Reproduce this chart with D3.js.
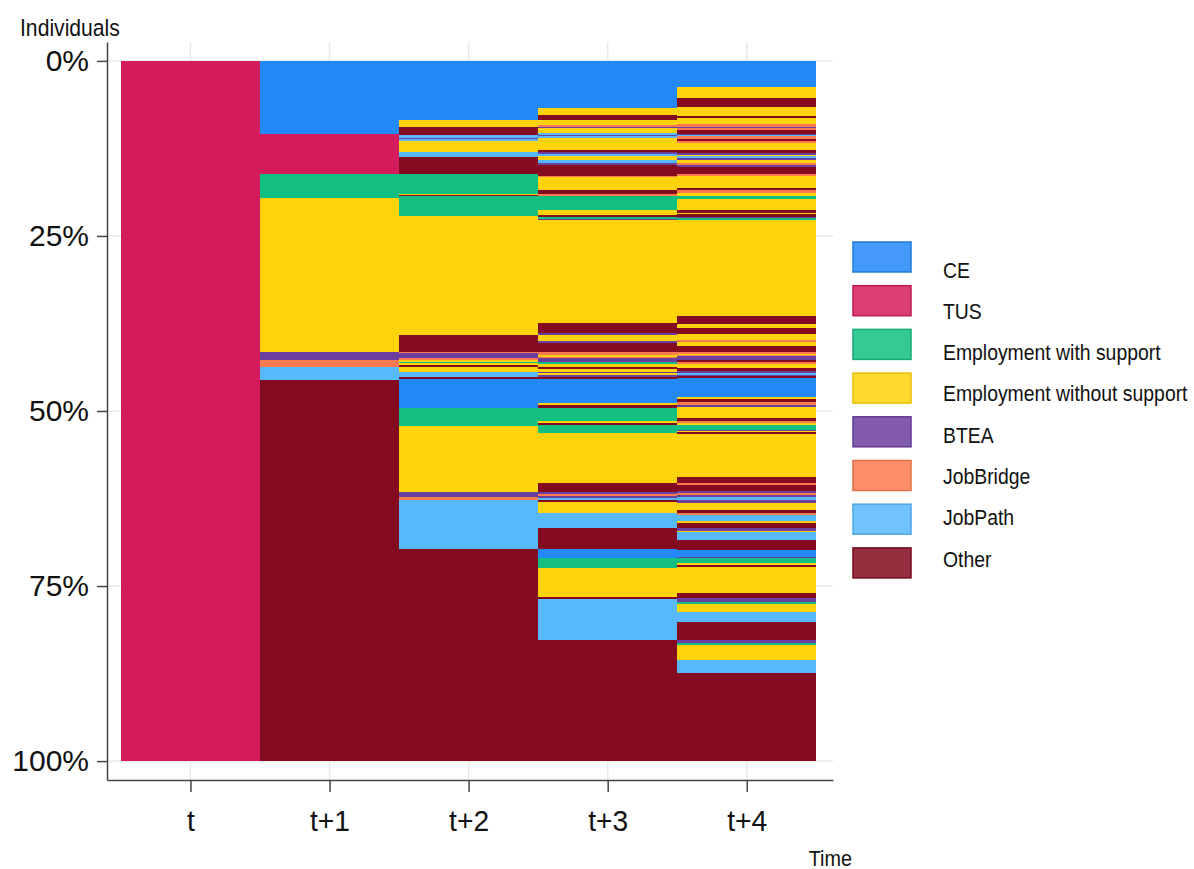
<!DOCTYPE html>
<html><head><meta charset="utf-8">
<script src="https://cdn.jsdelivr.net/npm/d3@7"></script>
<style>
body{margin:0;background:#fff}
text{font-family:"Liberation Sans",Arial,sans-serif;fill:#111}
</style>
</head><body>
<svg id="chart" width="1194" height="869"></svg>
<script>
// ---- data ----
const timeLabels = ["t", "t+1", "t+2", "t+3", "t+4"];
const stateKeys = ["CE", "TUS", "EWS", "EWO", "BTEA", "JB", "JP", "OTH"];
const stateLabels = ["CE", "TUS", "Employment with support", "Employment without support", "BTEA", "JobBridge", "JobPath", "Other"];
const stateColors = ["#2388f8", "#d41c5c", "#13bf80", "#fed30b", "#6b3fa0", "#fb7a4f", "#58b8fc", "#830a1f"];
const yTicks = [0, 25, 50, 75, 100];

// sequences: [state, share of individuals in %], top to bottom
const seqT0 = [["TUS", 100]];
const seqT1 = [["CE",10.43],["TUS",5.71],["EWS",3.43],["EWO",22.0],["BTEA",1.14],["JB",1.0],["JP",1.86],["OTH",54.43]];
const seqT2 = [["CE",8.43],["EWO",1.0],["OTH",1.14],["JP",0.43],["BTEA",0.14],["JP",0.29],["EWO",1.57],["JP",0.71],["OTH",2.43],["EWS",2.86],["EWO",0.21],["OTH",0.14],["EWS",2.79],["EWO",17.0],["OTH",2.43],["JB",0.14],["BTEA",0.71],["JB",0.29],["EWO",0.29],["EWS",0.14],["EWO",0.29],["OTH",0.29],["EWO",0.71],["JP",0.71],["OTH",0.29],["CE",4.14],["EWS",2.57],["EWO",9.43],["BTEA",0.71],["JB",0.43],["JP",7.0],["OTH",30.29]];
const seqT3 = [["CE",6.71],["EWO",1.0],["OTH",0.71],["EWO",0.71],["JB",0.29],["BTEA",0.14],["EWO",0.71],["JP",0.29],["BTEA",0.14],["JP",0.29],["EWO",1.71],["OTH",0.29],["BTEA",0.29],["JP",0.29],["EWO",0.57],["JP",0.43],["BTEA",0.29],["OTH",1.57],["JB",0.14],["EWO",1.86],["OTH",0.57],["JB",0.29],["EWS",2.0],["EWO",0.71],["OTH",0.29],["EWS",0.29],["BTEA",0.14],["EWO",14.71],["OTH",1.43],["BTEA",0.29],["EWO",0.86],["BTEA",0.29],["OTH",1.29],["JB",0.43],["EWO",0.29],["JB",0.14],["BTEA",0.57],["EWS",0.29],["EWO",0.43],["OTH",0.29],["EWO",0.43],["BTEA",0.14],["EWO",0.29],["BTEA",0.29],["OTH",0.29],["CE",3.43],["EWO",0.29],["OTH",0.43],["EWS",1.86],["EWO",0.21],["OTH",0.29],["EWS",1.21],["EWO",7.14],["OTH",1.29],["BTEA",0.29],["JB",0.29],["BTEA",0.29],["JP",0.29],["OTH",0.29],["EWO",1.57],["JP",2.14],["OTH",3.0],["CE",1.29],["EWS",1.43],["EWO",4.14],["OTH",0.29],["JP",5.86],["OTH",17.29]];
const seqT4 = [["CE",3.71],["EWO",1.57],["OTH",1.29],["EWO",1.29],["OTH",0.29],["EWO",0.86],["JB",0.43],["BTEA",0.14],["JB",0.29],["OTH",0.57],["BTEA",0.14],["JP",0.14],["JB",0.43],["OTH",0.29],["JB",0.29],["EWO",1.0],["OTH",0.43],["BTEA",0.29],["EWO",0.14],["JP",0.29],["BTEA",0.29],["EWO",0.43],["JB",0.29],["BTEA",0.29],["OTH",1.0],["JB",0.29],["EWO",1.71],["OTH",0.29],["JB",0.43],["EWO",0.43],["EWS",0.43],["EWO",1.57],["OTH",0.43],["EWO",0.14],["OTH",0.43],["BTEA",0.14],["EWS",0.29],["EWO",13.71],["OTH",1.14],["EWO",0.57],["OTH",0.86],["EWO",0.86],["JB",0.29],["EWO",0.57],["OTH",0.86],["JB",0.29],["EWO",0.14],["JB",0.14],["BTEA",0.57],["OTH",0.29],["JB",0.29],["EWO",0.57],["OTH",0.43],["BTEA",0.29],["JP",0.29],["BTEA",0.14],["OTH",0.29],["CE",2.71],["EWO",0.29],["OTH",0.43],["JB",0.43],["BTEA",0.29],["EWO",1.57],["OTH",0.43],["JB",0.29],["EWO",0.29],["EWS",0.71],["BTEA",0.14],["EWO",0.14],["OTH",0.29],["EWO",6.14],["OTH",0.86],["JB",0.29],["OTH",0.86],["BTEA",0.29],["JB",0.29],["BTEA",0.29],["JP",0.43],["BTEA",0.43],["EWO",1.0],["OTH",0.43],["JB",0.29],["JP",0.86],["EWO",0.29],["OTH",0.71],["BTEA",0.43],["EWO",0.14],["JP",1.14],["OTH",1.43],["CE",1.0],["BTEA",0.14],["EWS",0.71],["EWO",0.29],["OTH",0.29],["EWO",3.71],["OTH",0.71],["BTEA",0.57],["EWS",0.29],["EWO",1.14],["JP",1.43],["OTH",2.57],["BTEA",0.43],["EWS",0.29],["EWO",2.14],["JP",1.86],["OTH",12.57]];
const columns = [seqT0, seqT1, seqT2, seqT3, seqT4];

// ---- drawing ----
const svg = d3.select("#chart");
const x = d3.scaleLinear().domain([-0.6, 4.62]).range([107, 833]);
const y = d3.scaleLinear().domain([-2.7, 102.7]).range([42, 780]);
const color = d3.scaleOrdinal().domain(stateKeys).range(stateColors);

// grid
const grid = svg.append("g").attr("stroke", "#e9e9e9").attr("stroke-width", 1.5);
grid.selectAll(".vg").data(d3.range(timeLabels.length)).join("line")
  .attr("x1", d => x(d)).attr("x2", d => x(d)).attr("y1", y.range()[0]).attr("y2", y.range()[1]);
grid.selectAll(".hg").data(yTicks).join("line")
  .attr("y1", d => y(d)).attr("y2", d => y(d)).attr("x1", x.range()[0]).attr("x2", x.range()[1]);

// segments
const segs = [];
columns.forEach((col, i) => {
  const total = d3.sum(col, d => d[1]);
  let cum = 0;
  col.forEach(([s, v]) => {
    const share = v * 100 / total;
    segs.push({i, s, y0: cum, y1: cum + share});
    cum += share;
  });
});
svg.append("g").attr("shape-rendering", "crispEdges")
  .selectAll("rect").data(segs).join("rect")
  .attr("x", d => x(d.i - 0.5)).attr("width", d => x(d.i + 0.5) - x(d.i - 0.5))
  .attr("y", d => y(d.y0)).attr("height", d => Math.max(0.5, y(d.y1) - y(d.y0)))
  .attr("fill", d => color(d.s));

// axes
const yAxis = svg.append("g").attr("transform", `translate(${x.range()[0]},0)`)
  .call(d3.axisLeft(y).tickValues(yTicks).tickFormat(d => d + "%").tickSize(10).tickSizeOuter(0).tickPadding(8));
const xAxis = svg.append("g").attr("transform", `translate(0,${y.range()[1]})`)
  .call(d3.axisBottom(x).tickValues(d3.range(timeLabels.length)).tickFormat(i => timeLabels[i]).tickSize(12).tickSizeOuter(0).tickPadding(18));
[yAxis, xAxis].forEach(a => {
  a.select(".domain").attr("stroke", "#444").attr("stroke-width", 1.5);
  a.selectAll(".tick line").attr("stroke", "#444").attr("stroke-width", 1.5);
  a.selectAll(".tick text").attr("fill", "#111")
    .attr("font-family", '"Liberation Sans", Arial, sans-serif');
});
yAxis.selectAll(".tick text").attr("font-size", 30);
xAxis.selectAll(".tick text").attr("font-size", 30).attr("transform", "scale(0.94,1)");

// axis titles
svg.append("text").attr("transform", "translate(20,36) scale(0.9,1)").attr("font-size", 23.5).text("Individuals");
svg.append("text").attr("transform", "translate(852,866) scale(0.9,1)").attr("font-size", 22).attr("text-anchor", "end").text("Time");

// legend
const lg = svg.append("g");
stateKeys.forEach((k, i) => {
  const c = d3.color(stateColors[i]);
  lg.append("rect").attr("x", 853).attr("y", 242 + i * 43.7).attr("width", 58).attr("height", 30)
    .attr("fill", c.copy({opacity: 0.85})).attr("stroke", c.darker(0.3)).attr("stroke-width", 1.5);
  lg.append("text").attr("transform", `translate(943,${277.5 + i * 41.3}) scale(0.91,1)`)
    .attr("font-size", 21.3).text(stateLabels[i]);
});
</script>
</body></html>
